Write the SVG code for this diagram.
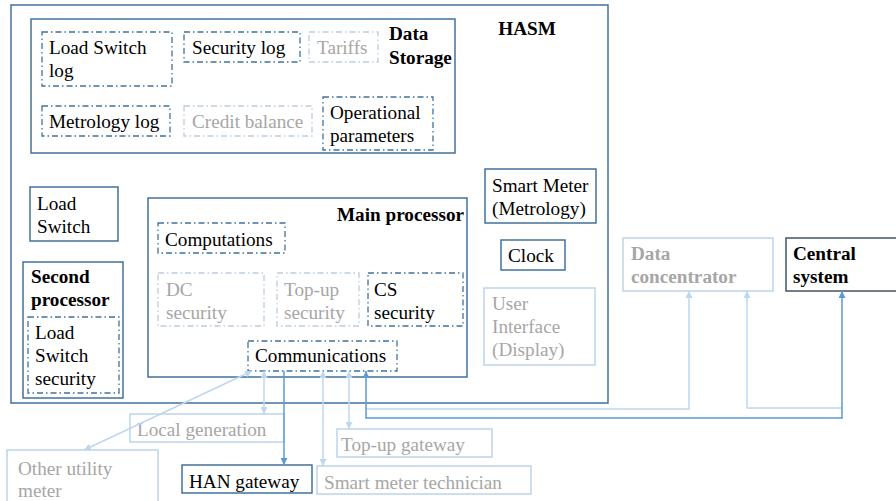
<svg xmlns="http://www.w3.org/2000/svg" width="896" height="501" viewBox="0 0 896 501">
<defs>
<style>
text{font-family:"Liberation Serif","Times New Roman",serif;font-size:19.2px;fill:#000}
.b{font-weight:bold}
.g{fill:#a6a6a6}
.solid{fill:none;stroke:#41719c;stroke-width:1.5}
.dash{fill:none;stroke:#41719c;stroke-width:1.3;stroke-dasharray:6 3 1.5 3}
.ldash{fill:none;stroke:#bccde0;stroke-width:1.3;stroke-dasharray:6 3 1.5 3}
.lbox{fill:none;stroke:#bdd3ea;stroke-width:1.5}
.cdark{fill:none;stroke:#5b9bd5;stroke-width:1.5}
.clight{fill:none;stroke:#bdd7ee;stroke-width:1.5}
</style>
<marker id="ad" viewBox="0 0 10 10" refX="10" refY="5" markerWidth="7" markerHeight="7" markerUnits="userSpaceOnUse" orient="auto-start-reverse"><path d="M0,0 L10,5 L0,10 z" fill="#5b9bd5"/></marker>
<marker id="al" viewBox="0 0 10 10" refX="10" refY="5" markerWidth="7" markerHeight="7" markerUnits="userSpaceOnUse" orient="auto-start-reverse"><path d="M0,0 L10,5 L0,10 z" fill="#bdd7ee"/></marker>
</defs>
<rect width="896" height="501" fill="#fff"/>

<g id="hasm">
<rect class="solid" x="11" y="5" width="597" height="398"/>
<text class="b" x="527" y="35" text-anchor="middle">HASM</text>
</g>

<g id="data-storage">
<rect class="solid" x="31" y="19" width="424" height="134"/>
<text class="b" x="389" y="40">Data</text>
<text class="b" x="389" y="64">Storage</text>
</g>
<g id="load-switch-log">
<rect class="dash" x="42" y="32" width="130" height="54"/>
<text x="49" y="54">Load Switch</text>
<text x="49" y="77">log</text>
</g>
<g id="security-log">
<rect class="dash" x="184" y="32" width="116" height="30"/>
<text x="192" y="54">Security log</text>
</g>
<g id="tariffs">
<rect class="ldash" x="309" y="32" width="69" height="30"/>
<text class="g" x="317" y="54">Tariffs</text>
</g>
<g id="metrology-log">
<rect class="dash" x="42" y="106" width="128" height="30"/>
<text x="49" y="128">Metrology log</text>
</g>
<g id="credit-balance">
<rect class="ldash" x="184" y="106" width="128" height="30"/>
<text class="g" x="192" y="128">Credit balance</text>
</g>
<g id="operational-parameters">
<rect class="dash" x="323" y="97" width="110" height="53"/>
<text x="330" y="119">Operational</text>
<text x="330" y="142">parameters</text>
</g>

<g id="load-switch">
<rect class="solid" x="30" y="187" width="88" height="54"/>
<text x="37" y="210">Load</text>
<text x="37" y="233">Switch</text>
</g>

<g id="second-processor">
<rect class="solid" x="23" y="262" width="100" height="136"/>
<text class="b" x="31" y="283">Second</text>
<text class="b" x="31" y="306">processor</text>
</g>
<g id="load-switch-security">
<rect class="dash" x="28" y="317" width="91" height="76"/>
<text x="35" y="339">Load</text>
<text x="35" y="362">Switch</text>
<text x="35" y="385">security</text>
</g>

<g id="main-processor">
<rect class="solid" x="148" y="198" width="319" height="179"/>
<text class="b" x="464" y="221" text-anchor="end">Main processor</text>
</g>
<g id="computations">
<rect class="dash" x="158" y="223" width="127" height="30"/>
<text x="165" y="246">Computations</text>
</g>
<g id="dc-security">
<rect class="ldash" x="158" y="273" width="106" height="53"/>
<text class="g" x="166" y="296">DC</text>
<text class="g" x="166" y="319">security</text>
</g>
<g id="topup-security">
<rect class="ldash" x="277" y="273" width="82" height="53"/>
<text class="g" x="284" y="296">Top-up</text>
<text class="g" x="284" y="319">security</text>
</g>
<g id="cs-security">
<rect class="dash" x="368" y="273" width="95" height="53"/>
<text x="374" y="296">CS</text>
<text x="374" y="319">security</text>
</g>
<g id="communications">
<rect class="dash" x="248" y="341" width="149" height="30"/>
<text x="255" y="362">Communications</text>
</g>

<g id="smart-meter">
<rect class="solid" x="485" y="169" width="111" height="54"/>
<text x="492" y="192">Smart Meter</text>
<text x="492" y="215">(Metrology)</text>
</g>
<g id="clock">
<rect class="solid" x="501" y="240" width="64" height="30"/>
<text x="508" y="262">Clock</text>
</g>
<g id="user-interface">
<rect class="lbox" x="484" y="288" width="111" height="77"/>
<text class="g" x="492" y="310">User</text>
<text class="g" x="492" y="333">Interface</text>
<text class="g" x="492" y="356">(Display)</text>
</g>

<g id="data-concentrator">
<rect class="lbox" x="623" y="238" width="150" height="53"/>
<text class="b g" x="631" y="260">Data</text>
<text class="b g" x="631" y="283">concentrator</text>
</g>
<g id="central-system">
<rect fill="none" stroke="#44546a" stroke-width="1.5" x="786" y="238" width="120" height="53"/>
<text class="b" x="793" y="260">Central</text>
<text class="b" x="793" y="283">system</text>
</g>

<g id="local-generation">
<rect class="lbox" x="130" y="414" width="154" height="28"/>
<text class="g" x="137" y="436">Local generation</text>
</g>
<g id="other-utility-meter">
<rect class="lbox" x="7" y="450" width="151" height="60"/>
<text class="g" x="18" y="475">Other utility</text>
<text class="g" x="18" y="497">meter</text>
</g>
<g id="han-gateway">
<rect class="solid" x="182" y="465" width="130" height="28"/>
<text x="189" y="488">HAN gateway</text>
</g>
<g id="smart-meter-technician">
<rect class="lbox" x="317" y="466" width="214" height="28"/>
<text class="g" x="324" y="489">Smart meter technician</text>
</g>
<g id="topup-gateway">
<rect class="lbox" x="337" y="429" width="155" height="28"/>
<text class="g" x="341" y="451">Top-up gateway</text>
</g>

<g id="connectors">
<line class="clight" x1="252" y1="371" x2="84" y2="450" marker-start="url(#al)" marker-end="url(#al)"/>
<line class="clight" x1="264" y1="371" x2="264" y2="414" marker-start="url(#al)" marker-end="url(#al)"/>
<line class="cdark" x1="284" y1="371" x2="284" y2="465" marker-end="url(#ad)"/>
<line class="clight" x1="323" y1="371" x2="323" y2="466" marker-start="url(#al)" marker-end="url(#al)"/>
<line class="clight" x1="349" y1="371" x2="349" y2="429" marker-start="url(#al)" marker-end="url(#al)"/>
<polyline class="clight" points="366,409 689,409 689,291" marker-end="url(#al)"/>
<polyline class="clight" points="842,408 747,408 747,291" marker-end="url(#al)"/>
<polyline class="cdark" points="366,371 366,418 842,418 842,291" marker-start="url(#ad)" marker-end="url(#ad)"/>
</g>
</svg>
